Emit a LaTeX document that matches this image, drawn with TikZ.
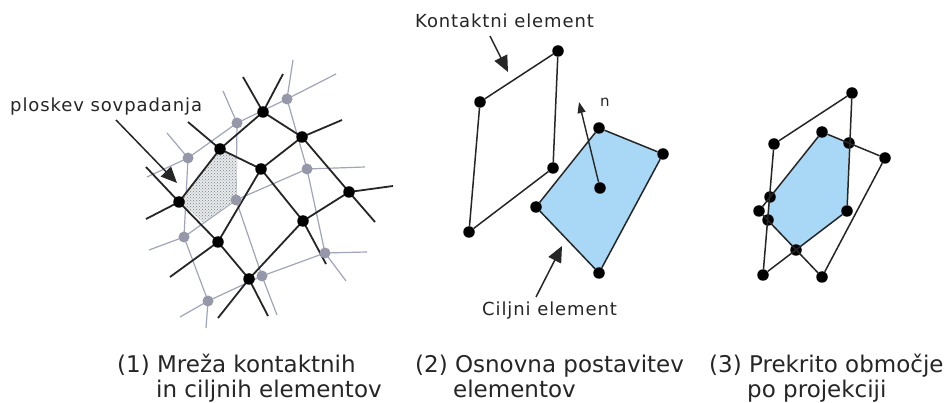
\documentclass[tikz,border=0pt]{standalone}
\usepackage{fontspec}
\setmainfont{DejaVu Sans}
\newfontfamily\labfont[LetterSpace=5]{DejaVu Sans}
\usetikzlibrary{arrows.meta,patterns}
\definecolor{meshgray}{RGB}{160,165,185}
\definecolor{nodegray}{RGB}{150,152,170}
\definecolor{paleblue}{RGB}{168,216,245}
\definecolor{patchdot}{RGB}{120,130,150}
\definecolor{patchbase}{RGB}{232,234,232}
\tikzset{x=1pt,y=-1pt,
 bn/.style={circle,fill=black,inner sep=0pt,minimum size=11.5pt},
 gn/.style={circle,fill=nodegray,inner sep=0pt,minimum size=11pt},
 bl/.style={draw=black!85,line width=1.8pt},
 gl/.style={draw=meshgray,line width=1.2pt},
 el/.style={draw=black!85,line width=1.5pt},
 callout/.style={draw=black!85,line width=1.5pt,-{Triangle[length=16pt,width=14pt]}},
 lab/.style={font=\labfont\fontsize{18}{20}\selectfont,text=black!85,inner sep=0pt,anchor=base west},
 captext/.style={font=\fontsize{23}{26}\selectfont,text=black!85,inner sep=0pt,anchor=base west}}
\begin{document}
\begin{tikzpicture}
\useasboundingbox (0,0) rectangle (948,403);
\fill[white] (0,0) rectangle (948,403);
% panel 1 gray mesh coordinates
\coordinate (ga) at (287,99);\coordinate (gb) at (237,123);\coordinate (gc) at (188,158);
\coordinate (gd) at (307,169);\coordinate (ge) at (236,200);\coordinate (gf) at (184,237);
\coordinate (gg) at (325,253);\coordinate (gh) at (262,276);\coordinate (gi) at (208,301);
\coordinate (f0a) at (293,60);\coordinate (f0b) at (336,74);
\coordinate (f1) at (223,91);\coordinate (f2) at (167,133);\coordinate (f3) at (147,177);
\coordinate (f4) at (365,167);\coordinate (f5) at (367,252);\coordinate (f6) at (346,281);
\coordinate (f7) at (149,250);\coordinate (f8) at (180,317);\coordinate (f9) at (206,328);
\coordinate (f10) at (277,315);
\draw[gl] (ga)--(gb) (gb)--(gc) (ga)--(gd) (gb)--(ge) (gc)--(gf) (gd)--(ge) (gd)--(gg)
 (ge)--(gh) (gf)--(ge) (gf)--(gi) (gi)--(gh) (gh)--(gg) (ga)--(f0a) (ga)--(f0b)
 (gb)--(f1) (gc)--(f2) (gc)--(f3) (gd)--(f4) (gg)--(f5) (gg)--(f6) (gf)--(f7) (gi)--(f8) (gi)--(f9) (gh)--(f10);
% overlap patch
\coordinate (ba) at (263,112);\coordinate (bb) at (302,137);\coordinate (bc) at (220,149);
\coordinate (bd) at (261,169);\coordinate (be) at (349,192);\coordinate (bf) at (179,202);
\coordinate (bg) at (303,221);\coordinate (bh) at (218,242);\coordinate (bi) at (249,279);
\coordinate (pa) at (237,158);\coordinate (pb) at (203,222);
\fill[patchbase] (bc)--(pa)--(ge)--(pb)--(bf)--cycle;
\fill[pattern=crosshatch dots,pattern color=patchdot] (bc)--(pa)--(ge)--(pb)--(bf)--cycle;
% black mesh
\coordinate (h1) at (243,77);\coordinate (h2) at (283,74);\coordinate (h3) at (342,120);
\coordinate (h4) at (188,122);\coordinate (h5) at (393,186);\coordinate (h6) at (375,222);
\coordinate (h7) at (326,264);\coordinate (h8) at (146,167);\coordinate (h9) at (146,219);
\coordinate (h10) at (170,277);\coordinate (h11) at (218,318);\coordinate (h12) at (268,316);
\draw[bl] (ba)--(bb) (ba)--(bc) (bc)--(bd) (bd)--(bb) (bb)--(be) (be)--(bg) (bg)--(bd)
 (bc)--(bf) (bd)--(bh) (bf)--(bh) (bh)--(bi) (bi)--(bg)
 (ba)--(h1) (ba)--(h2) (bb)--(h3) (bc)--(h4) (be)--(h5) (be)--(h6) (bg)--(h7)
 (bf)--(h8) (bf)--(h9) (bh)--(h10) (bi)--(h11) (bi)--(h12);
\foreach \n in {a,...,i}{\node[gn] (ng\n) at (g\n) {};}
\foreach \n in {a,...,i}{\node[bn] (nb\n) at (b\n) {};}
\node[lab] (l1) at (10,112) {ploskev sovpadanja};
\coordinate (a1s) at (116,120);\coordinate (a1e) at (177,183);
\draw[callout] (a1s)--(a1e);
% panel 2
\fill[paleblue] (599,128)--(663,154)--(599,273)--(536,207)--cycle;
\node[bn] (k1) at (558,51) {};\node[bn] (k2) at (480,102) {};
\node[bn] (k3) at (553,168) {};\node[bn] (k4) at (469,232) {};
\node[bn] (t1) at (599,128) {};\node[bn] (t2) at (663,154) {};
\node[bn] (t3) at (536,207) {};\node[bn] (t4) at (599,273) {};
\node[bn] (tc) at (600,188) {};
\draw[el] (k1)--(k2)--(k4)--(k3)--(k1);
\draw[el] (t1)--(t2)--(t4)--(t3)--(t1);
\coordinate (ntip) at (579,102);
\draw[draw=black!85,line width=1.4pt,-{Triangle[length=11pt,width=8pt]}] (tc)--(ntip);
\node[font=\fontsize{15}{17}\selectfont,text=black!85,inner sep=0pt,anchor=base west] (nl) at (600,107) {n};
\node[lab] (l2) at (415,28) {Kontaktni element};
\coordinate (a2s) at (490,36);\coordinate (a2e) at (508,72);
\draw[callout] (a2s)--(a2e);
\node[lab] (l3) at (482,316) {Ciljni element};
\coordinate (a3s) at (536,297);\coordinate (a3e) at (562,246);
\draw[callout] (a3s)--(a3e);
% panel 3
\fill[paleblue] (822,132)--(849,143)--(847,211)--(796,250)--(768,220)--(770,197)--cycle;
\node[bn] (p1) at (852,93) {};\node[bn] (p2) at (774,144) {};\node[bn] (p3) at (847,211) {};\node[bn] (p4) at (763,275) {};
\node[bn] (q1) at (822,132) {};\node[bn] (q2) at (885,158) {};\node[bn] (q3) at (822,277) {};\node[bn] (q4) at (759,211) {};
\node[bn] (r1) at (849,143) {};\node[bn] (r2) at (770,197) {};\node[bn] (r3) at (768,220) {};\node[bn] (r4) at (796,250) {};
\draw[el] (p1)--(p2)--(p4)--(p3)--(p1);
\draw[el] (q1)--(q2)--(q3)--(q4)--(q1);
% captions
\node[captext] (c1) at (117,372) {(1) Mreža kontaktnih};
\node[captext] (c1b) at (156,397) {in ciljnih elementov};
\node[captext] (c2) at (415,372) {(2) Osnovna postavitev};
\node[captext] (c2b) at (453,397) {elementov};
\node[captext] (c3) at (709,372) {(3) Prekrito območje};
\node[captext] (c3b) at (747,397) {po projekciji};
\end{tikzpicture}
\end{document}
